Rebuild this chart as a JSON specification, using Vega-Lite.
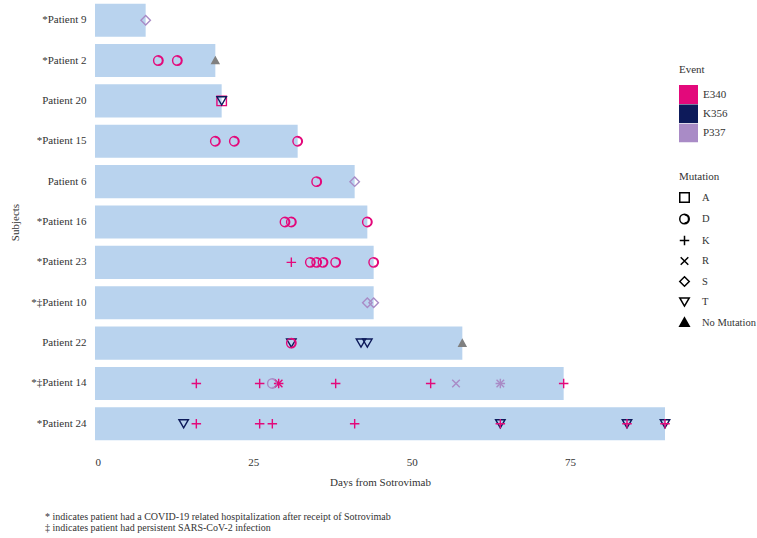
{
  "$schema": "https://vega.github.io/schema/vega-lite/v6.json",
  "width": 570,
  "height": 444,
  "autosize": {"type": "none"},
  "padding": {"left": 95, "top": 0, "right": 92, "bottom": 94},
  "config": {
    "font": "Liberation Serif",
    "view": {"stroke": null},
    "axis": {"labelFont": "Liberation Serif", "titleFont": "Liberation Serif", "labelFontSize": 11, "titleFontSize": 11, "titleFontWeight": "normal", "labelColor": "#333", "titleColor": "#333", "domain": false, "ticks": false, "grid": false},
    "legend": {"labelFont": "Liberation Serif", "titleFont": "Liberation Serif", "labelFontSize": 11, "titleFontSize": 11, "titleFontWeight": "normal", "labelColor": "#333", "titleColor": "#333"}
  },
  "title": {
    "text": ["* indicates patient had a COVID-19 related hospitalization after receipt of Sotrovimab", "‡ indicates patient had persistent SARS-CoV-2 infection"],
    "orient": "bottom", "anchor": "start", "frame": "group", "dx": -50, "offset": 25,
    "fontSize": 10, "fontWeight": "normal", "lineHeight": 11, "color": "#333", "font": "Liberation Serif"
  },
  "datasets": {
    "bars": [
      {"patient": "*Patient 9", "end": 8},
      {"patient": "*Patient 2", "end": 19},
      {"patient": "Patient 20", "end": 20},
      {"patient": "*Patient 15", "end": 32},
      {"patient": "Patient 6", "end": 41},
      {"patient": "*Patient 16", "end": 43},
      {"patient": "*Patient 23", "end": 44},
      {"patient": "*‡Patient 10", "end": 44},
      {"patient": "Patient 22", "end": 58},
      {"patient": "*‡Patient 14", "end": 74},
      {"patient": "*Patient 24", "end": 90}
    ],
    "events": [
      {"patient": "*Patient 9", "day": 8, "event": "P337", "mutation": "S"},
      {"patient": "*Patient 2", "day": 10, "event": "E340", "mutation": "D"},
      {"patient": "*Patient 2", "day": 13, "event": "E340", "mutation": "D"},
      {"patient": "*Patient 2", "day": 19, "event": null, "mutation": "No Mutation"},
      {"patient": "Patient 20", "day": 20, "event": "E340", "mutation": "A"},
      {"patient": "Patient 20", "day": 20, "event": "K356", "mutation": "T"},
      {"patient": "*Patient 15", "day": 19, "event": "E340", "mutation": "D"},
      {"patient": "*Patient 15", "day": 22, "event": "E340", "mutation": "D"},
      {"patient": "*Patient 15", "day": 32, "event": "E340", "mutation": "D"},
      {"patient": "Patient 6", "day": 35, "event": "E340", "mutation": "D"},
      {"patient": "Patient 6", "day": 41, "event": "P337", "mutation": "S"},
      {"patient": "*Patient 16", "day": 30, "event": "E340", "mutation": "D"},
      {"patient": "*Patient 16", "day": 31, "event": "E340", "mutation": "D"},
      {"patient": "*Patient 16", "day": 43, "event": "E340", "mutation": "D"},
      {"patient": "*Patient 23", "day": 31, "event": "E340", "mutation": "K"},
      {"patient": "*Patient 23", "day": 34, "event": "E340", "mutation": "D"},
      {"patient": "*Patient 23", "day": 35, "event": "E340", "mutation": "D"},
      {"patient": "*Patient 23", "day": 36, "event": "E340", "mutation": "D"},
      {"patient": "*Patient 23", "day": 38, "event": "E340", "mutation": "D"},
      {"patient": "*Patient 23", "day": 44, "event": "E340", "mutation": "D"},
      {"patient": "*‡Patient 10", "day": 43, "event": "P337", "mutation": "S"},
      {"patient": "*‡Patient 10", "day": 44, "event": "P337", "mutation": "S"},
      {"patient": "Patient 22", "day": 31, "event": "K356", "mutation": "T"},
      {"patient": "Patient 22", "day": 31, "event": "E340", "mutation": "D"},
      {"patient": "Patient 22", "day": 42, "event": "K356", "mutation": "T"},
      {"patient": "Patient 22", "day": 43, "event": "K356", "mutation": "T"},
      {"patient": "Patient 22", "day": 58, "event": null, "mutation": "No Mutation"},
      {"patient": "*‡Patient 14", "day": 16, "event": "E340", "mutation": "K"},
      {"patient": "*‡Patient 14", "day": 26, "event": "E340", "mutation": "K"},
      {"patient": "*‡Patient 14", "day": 28, "event": "P337", "mutation": "D"},
      {"patient": "*‡Patient 14", "day": 29, "event": "E340", "mutation": "K"},
      {"patient": "*‡Patient 14", "day": 29, "event": "E340", "mutation": "R"},
      {"patient": "*‡Patient 14", "day": 38, "event": "E340", "mutation": "K"},
      {"patient": "*‡Patient 14", "day": 53, "event": "E340", "mutation": "K"},
      {"patient": "*‡Patient 14", "day": 57, "event": "P337", "mutation": "R"},
      {"patient": "*‡Patient 14", "day": 64, "event": "P337", "mutation": "K"},
      {"patient": "*‡Patient 14", "day": 64, "event": "P337", "mutation": "R"},
      {"patient": "*‡Patient 14", "day": 74, "event": "E340", "mutation": "K"},
      {"patient": "*Patient 24", "day": 14, "event": "K356", "mutation": "T"},
      {"patient": "*Patient 24", "day": 16, "event": "E340", "mutation": "K"},
      {"patient": "*Patient 24", "day": 26, "event": "E340", "mutation": "K"},
      {"patient": "*Patient 24", "day": 28, "event": "E340", "mutation": "K"},
      {"patient": "*Patient 24", "day": 41, "event": "E340", "mutation": "K"},
      {"patient": "*Patient 24", "day": 64, "event": "K356", "mutation": "T"},
      {"patient": "*Patient 24", "day": 64, "event": "E340", "mutation": "K"},
      {"patient": "*Patient 24", "day": 84, "event": "K356", "mutation": "T"},
      {"patient": "*Patient 24", "day": 84, "event": "E340", "mutation": "K"},
      {"patient": "*Patient 24", "day": 90, "event": "K356", "mutation": "T"},
      {"patient": "*Patient 24", "day": 90, "event": "E340", "mutation": "K"}
    ]
  },
  "layer": [
    {
      "data": {"name": "bars"},
      "mark": {"type": "bar", "color": "#b9d3ee"},
      "encoding": {
        "y": {
          "field": "patient", "type": "nominal",
          "scale": {"domain": ["*Patient 9", "*Patient 2", "Patient 20", "*Patient 15", "Patient 6", "*Patient 16", "*Patient 23", "*‡Patient 10", "Patient 22", "*‡Patient 14", "*Patient 24"], "paddingInner": 0.18, "paddingOuter": 0.09},
          "axis": {"title": "Subjects", "labelPadding": 9, "titleAngle": -90, "titleX": -80, "titleY": 222, "titleAlign": "center", "titleBaseline": "middle"}
        },
        "x": {
          "field": "end", "type": "quantitative",
          "scale": {"domain": [0, 90], "nice": false},
          "axis": {"title": "Days from Sotrovimab", "values": [0, 25, 50, 75], "labelPadding": 12, "titlePadding": 9}
        }
      }
    },
    {
      "data": {"name": "events"},
      "transform": [{"filter": "datum.mutation !== 'No Mutation'"}],
      "mark": {"type": "point", "filled": false, "opacity": 1, "strokeWidth": 1.4, "size": 90},
      "encoding": {
        "y": {"field": "patient", "type": "nominal"},
        "x": {"field": "day", "type": "quantitative"},
        "color": {
          "field": "event", "type": "nominal",
          "scale": {"domain": ["E340", "K356", "P337"], "range": ["#e3097b", "#0d1a5a", "#a98bc6"]},
          "legend": {
            "title": "Event", "orient": "none", "legendX": 584, "legendY": 64,
            "symbolType": "square", "symbolSize": 361, "rowPadding": 0.3, "clipHeight": 19, "symbolStrokeWidth": 0, "labelOffset": 5, "titlePadding": 10
          }
        },
        "shape": {
          "field": "mutation", "type": "nominal",
          "scale": {
            "domain": ["A", "D", "K", "R", "S", "T", "No Mutation"],
            "range": ["square", "M0,-1A1,1,0,1,1,0,1A1,1,0,1,1,0,-1Z M0,-0.86A0.86,0.86,0,0,1,0,0.86", "M-1,0L1,0M0,-1L0,1", "M-0.8,-0.8L0.8,0.8M-0.8,0.8L0.8,-0.8", "diamond", "triangle-down", "M0,-1L1,0.8L-1,0.8Z M0,-0.45L0.55,0.55L-0.55,0.55Z M0,0.05L0.2,0.4L-0.2,0.4Z"]
          },
          "legend": {
            "title": "Mutation", "orient": "none", "legendX": 584, "legendY": 171,
            "symbolSize": 90, "rowPadding": 4.5, "labelOffset": 12, "titlePadding": 10, "labelFontSize": 10.5,
            "symbolStrokeColor": "black", "symbolStrokeWidth": 1.5
          }
        }
      }
    },
    {
      "data": {"name": "events"},
      "transform": [{"filter": "datum.mutation === 'D'"}],
      "mark": {"type": "point", "filled": true, "opacity": 1, "strokeWidth": 0, "size": 90, "shape": "M0,-1A1,1,0,0,1,0,1A0.85,1,0,0,0,0,-1Z"},
      "encoding": {
        "y": {"field": "patient", "type": "nominal"},
        "x": {"field": "day", "type": "quantitative"},
        "color": {"field": "event", "type": "nominal"}
      }
    },
    {
      "data": {"name": "events"},
      "transform": [{"filter": "datum.mutation === 'No Mutation'"}],
      "mark": {"type": "point", "filled": true, "opacity": 1, "color": "#808080", "size": 90},
      "encoding": {
        "y": {"field": "patient", "type": "nominal"},
        "x": {"field": "day", "type": "quantitative"},
        "shape": {"field": "mutation", "type": "nominal"}
      }
    }
  ]
}
